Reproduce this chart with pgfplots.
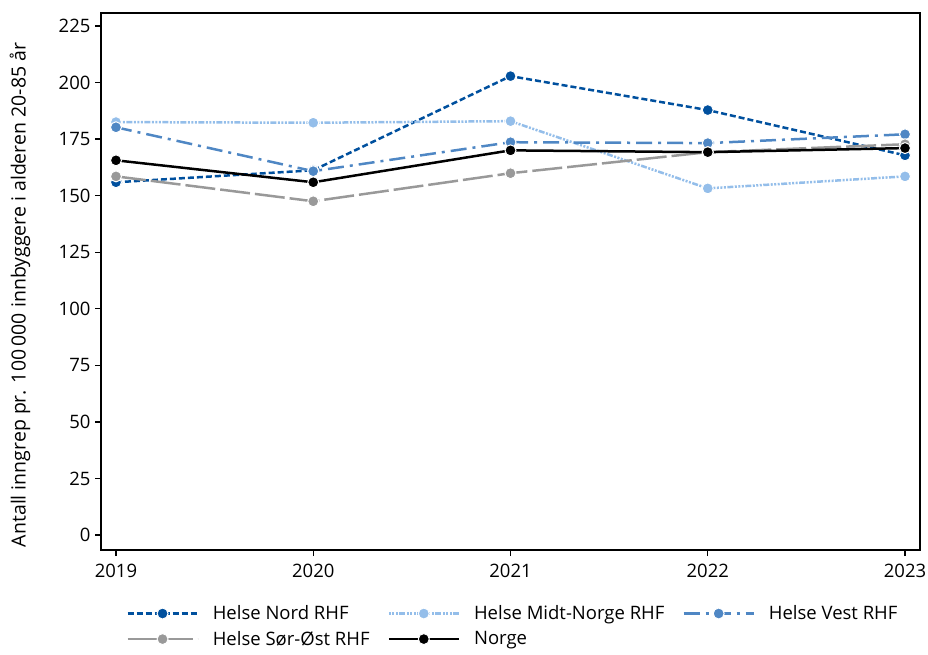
\documentclass[border=0pt]{standalone}
\usepackage{pgfplots}
\pgfplotsset{compat=1.18}
\usepackage{fontspec}
\setmainfont{Open Sans}
\definecolor{nord}{HTML}{00509E}
\definecolor{midt}{HTML}{94BEEA}
\definecolor{vest}{HTML}{4F87C4}
\definecolor{sor}{HTML}{999999}
\begin{document}
\begin{tikzpicture}
\useasboundingbox (-101pt,-105pt) rectangle (827pt,550pt);
\begin{axis}[
  scale only axis,
  width=819pt, height=537pt,
  xmin=2018.924, xmax=2023.076,
  ymin=-6.6, ymax=230.7,
  xtick={2019,2020,2021,2022,2023},
  ytick={0,25,50,75,100,125,150,175,200,225},
  xticklabel style={/pgf/number format/1000 sep={}, yshift=-5pt},
  yticklabel style={xshift=-1pt},
  /pgf/number format/assume math mode=true,
  tick align=outside,
  tick pos=left,
  major tick length=6pt,
  every tick/.style={black, line width=1.3pt},
  axis line style={line width=1.5pt},
  font=\fontsize{18.5}{22}\selectfont,
  ticklabel style={font=\fontsize{18.5}{22}\selectfont},
  ylabel={Antall inngrep pr. 100\,000 innbyggere i alderen 20-85 år},
  ylabel style={at={(axis description cs:-0.099,0.475)}, anchor=center, rotate=0, font=\fontsize{19.5}{22}\selectfont},
  legend style={at={(axis description cs:0.027,-0.096)}, anchor=north west, draw=none, fill=none,
    legend columns=3,
    /tikz/every even column/.append style={column sep=16pt},
    /tikz/every odd column/.append style={column sep=12pt},
    font=\fontsize{18.5}{22}\selectfont, row sep=6pt},
  legend cell align=left,
  legend image code/.code={\draw[mark repeat=2,mark phase=2,#1] plot coordinates {(0pt,0pt) (35pt,0pt) (70pt,0pt)};},
  every axis plot/.append style={line width=2.5pt, mark=*, mark size=5.5pt},
]
\addplot[nord, dash pattern=on 6pt off 3pt, mark options={solid, fill=nord, draw=white, line width=1pt}]
  coordinates {(2019,155.9) (2020,161.2) (2021,202.8) (2022,187.8) (2023,167.8)};
\addlegendentry{Helse Nord RHF}
\addplot[midt, dash pattern=on 2pt off 1.5pt on 2pt off 1.5pt on 2pt off 1.5pt on 6pt off 1.5pt, mark options={solid, fill=midt, draw=white, line width=1pt}]
  coordinates {(2019,182.5) (2020,182.2) (2021,182.9) (2022,153.2) (2023,158.5)};
\addlegendentry{Helse Midt-Norge RHF}
\addplot[vest, dash pattern=on 16pt off 6pt on 3pt off 6pt, mark options={solid, fill=vest, draw=white, line width=1pt}]
  coordinates {(2019,180.2) (2020,160.8) (2021,173.6) (2022,173.2) (2023,177.1)};
\addlegendentry{Helse Vest RHF}
\addplot[sor, dash pattern=on 30pt off 5pt, mark options={solid, fill=sor, draw=white, line width=1pt}]
  coordinates {(2019,158.5) (2020,147.5) (2021,159.9) (2022,169.2) (2023,172.7)};
\addlegendentry{Helse Sør-Øst RHF}
\addplot[black, mark options={solid, fill=black, draw=white, line width=1pt}]
  coordinates {(2019,165.6) (2020,155.9) (2021,170.0) (2022,169.2) (2023,171.0)};
\addlegendentry{Norge}
\end{axis}
\end{tikzpicture}
\end{document}
